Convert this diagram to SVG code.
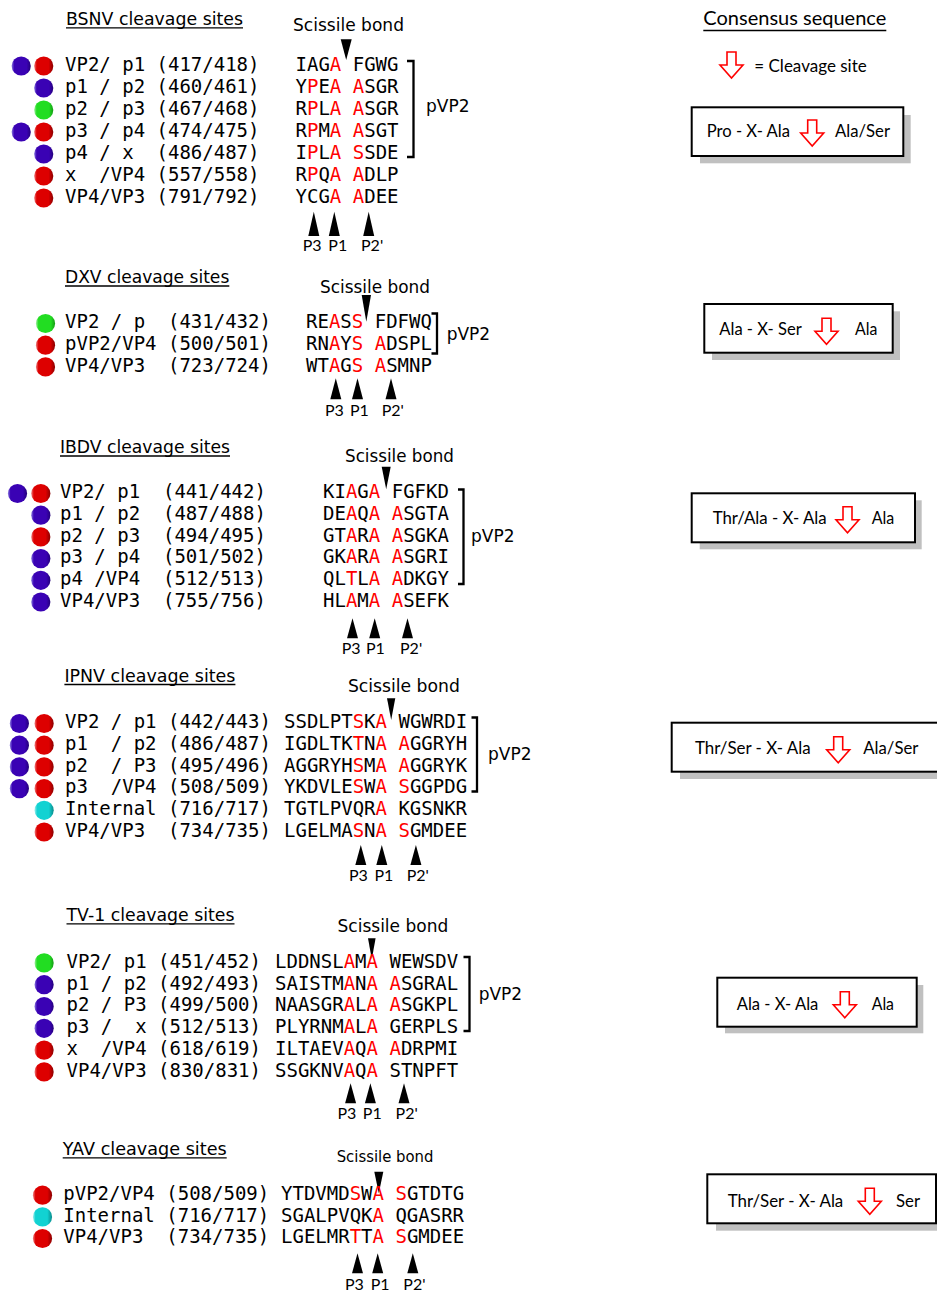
<svg xmlns="http://www.w3.org/2000/svg" width="937" height="1292" viewBox="0 0 937 1292" xml:space="preserve">
<defs>
<style>
.mono{font-family:"DejaVu Sans Mono",monospace;font-size:19px;fill:#000;white-space:pre}
.r{fill:#ff0000}
.hd{font-family:"DejaVu Sans",sans-serif;font-size:17px;fill:#000}
.sc{font-family:"DejaVu Sans",sans-serif;font-size:17px;fill:#000}
.pl{font-family:Lato,"Open Sans",sans-serif;font-size:16px;fill:#000}
.cal{font-family:Lato,"Open Sans",sans-serif;font-size:16.5px;fill:#000}
.ul{stroke:#000;stroke-width:1.3}
.tri{fill:#000}
.br{fill:none;stroke:#000;stroke-width:2.3}
.box{fill:#fff;stroke:#000;stroke-width:2}
.sh{fill:#c0c0c0}
.arr{fill:#fff;stroke:#ff0000;stroke-width:1.6}
.cb{fill:url(#gb)}.cr{fill:url(#gr)}.cg{fill:url(#gg)}.cc{fill:url(#gc)}
</style>
<linearGradient id="gb" x1="0" y1="0" x2="1" y2="0"><stop offset="0" stop-color="#8a7ae0"/><stop offset="0.14" stop-color="#3a02b4"/><stop offset="0.78" stop-color="#3a02b4"/><stop offset="1" stop-color="#24007a"/></linearGradient>
<linearGradient id="gr" x1="0" y1="0" x2="1" y2="0"><stop offset="0" stop-color="#f08080"/><stop offset="0.14" stop-color="#dd0000"/><stop offset="0.75" stop-color="#dd0000"/><stop offset="1" stop-color="#8a0000"/></linearGradient>
<linearGradient id="gg" x1="0" y1="0" x2="1" y2="0"><stop offset="0" stop-color="#a0f0a0"/><stop offset="0.14" stop-color="#22dd22"/><stop offset="0.78" stop-color="#22dd22"/><stop offset="1" stop-color="#149a14"/></linearGradient>
<linearGradient id="gc" x1="0" y1="0" x2="1" y2="0"><stop offset="0" stop-color="#a0f0f0"/><stop offset="0.14" stop-color="#12d2d2"/><stop offset="0.75" stop-color="#12d2d2"/><stop offset="1" stop-color="#0a8a8a"/></linearGradient>
<path id="ca" class="arr" d="M7,0 H16 V13 H23 L11.5,26 L0,13 H7 Z"/>
</defs>

<!-- BSNV -->
<g id="bsnv">
<text class="hd" x="66" y="25" textLength="177" lengthAdjust="spacingAndGlyphs">BSNV cleavage sites</text>
<line class="ul" x1="66" y1="27.8" x2="243" y2="27.8"/>
<text class="sc" x="293" y="31" textLength="111" lengthAdjust="spacingAndGlyphs">Scissile bond</text>
<polygon class="tri" points="340.7,39.3 351.7,39.3 346.2,60"/>
<g id="bsnv-r1"><circle class="cb" cx="21.2" cy="66" r="9.6"/><circle class="cr" cx="43.7" cy="66" r="9.6"/><text class="mono" x="65" y="70.5">VP2/ p1 (417/418)</text><text class="mono" x="295.5" y="70.5">IAG<tspan class="r">A</tspan> FGWG</text></g>
<g id="bsnv-r2"><circle class="cb" cx="43.7" cy="88" r="9.6"/><text class="mono" x="65" y="92.5">p1 / p2 (460/461)</text><text class="mono" x="295.5" y="92.5">Y<tspan class="r">P</tspan>E<tspan class="r">A</tspan> <tspan class="r">A</tspan>SGR</text></g>
<g id="bsnv-r3"><circle class="cg" cx="43.7" cy="110" r="9.6"/><text class="mono" x="65" y="114.5">p2 / p3 (467/468)</text><text class="mono" x="295.5" y="114.5">R<tspan class="r">P</tspan>L<tspan class="r">A</tspan> <tspan class="r">A</tspan>SGR</text></g>
<g id="bsnv-r4"><circle class="cb" cx="21.2" cy="132" r="9.6"/><circle class="cr" cx="43.7" cy="132" r="9.6"/><text class="mono" x="65" y="136.5">p3 / p4 (474/475)</text><text class="mono" x="295.5" y="136.5">R<tspan class="r">P</tspan>M<tspan class="r">A</tspan> <tspan class="r">A</tspan>SGT</text></g>
<g id="bsnv-r5"><circle class="cb" cx="43.7" cy="154" r="9.6"/><text class="mono" x="65" y="158.5">p4 / x  (486/487)</text><text class="mono" x="295.5" y="158.5">I<tspan class="r">P</tspan>L<tspan class="r">A</tspan> <tspan class="r">S</tspan>SDE</text></g>
<g id="bsnv-r6"><circle class="cr" cx="43.7" cy="176" r="9.6"/><text class="mono" x="65" y="180.5">x  /VP4 (557/558)</text><text class="mono" x="295.5" y="180.5">R<tspan class="r">P</tspan>Q<tspan class="r">A</tspan> <tspan class="r">A</tspan>DLP</text></g>
<g id="bsnv-r7"><circle class="cr" cx="43.7" cy="198" r="9.6"/><text class="mono" x="65" y="202.5">VP4/VP3 (791/792)</text><text class="mono" x="295.5" y="202.5">YCG<tspan class="r">A</tspan> <tspan class="r">A</tspan>DEE</text></g>
<text class="sc" x="426" y="112">pVP2</text>
<polygon class="tri" points="308.3,236 319.3,236 313.8,211.7"/>
<polygon class="tri" points="328.8,236 339.8,236 334.3,211.7"/>
<polygon class="tri" points="363.2,236 374.2,236 368.7,211.7"/>
<text class="pl" x="302.7" y="250.5">P3</text><text class="pl" x="328.3" y="250.5">P1</text><text class="pl" x="361" y="250.5">P2'</text>
</g>

<!-- DXV -->
<g id="dxv">
<text class="hd" x="65" y="283.3" textLength="164.3" lengthAdjust="spacingAndGlyphs">DXV cleavage sites</text>
<line class="ul" x1="65" y1="286" x2="229.3" y2="286"/>
<text class="sc" x="320" y="293.3" textLength="110" lengthAdjust="spacingAndGlyphs">Scissile bond</text>
<polygon class="tri" points="361.7,295 371,295 366.3,321.7"/>
<g id="dxv-r1"><circle class="cg" cx="45.5" cy="323.5" r="9.6"/><text class="mono" x="65" y="328.3">VP2 / p  (431/432)</text><text class="mono" x="306" y="328.3">RE<tspan class="r">A</tspan>S<tspan class="r">S</tspan> FDFWQ</text></g>
<g id="dxv-r2"><circle class="cr" cx="45.5" cy="345.2" r="9.6"/><text class="mono" x="65" y="350">pVP2/VP4 (500/501)</text><text class="mono" x="306" y="350">RN<tspan class="r">A</tspan>Y<tspan class="r">S</tspan> <tspan class="r">A</tspan>DSPL</text></g>
<g id="dxv-r3"><circle class="cr" cx="45.5" cy="366.9" r="9.6"/><text class="mono" x="65" y="371.7">VP4/VP3  (723/724)</text><text class="mono" x="306" y="371.7">WT<tspan class="r">A</tspan>G<tspan class="r">S</tspan> <tspan class="r">A</tspan>SMNP</text></g>
<text class="sc" x="446.7" y="340">pVP2</text>
<polygon class="tri" points="330.3,399.3 341.3,399.3 335.8,378.3"/>
<polygon class="tri" points="352,399.3 363,399.3 357.5,378.3"/>
<polygon class="tri" points="385.5,399.3 396.5,399.3 391,378.3"/>
<text class="pl" x="325" y="415.5">P3</text><text class="pl" x="350" y="415.5">P1</text><text class="pl" x="381.7" y="415.5">P2'</text>
</g>

<!-- IBDV -->
<g id="ibdv">
<text class="hd" x="60" y="453.3" textLength="170" lengthAdjust="spacingAndGlyphs">IBDV cleavage sites</text>
<line class="ul" x1="60" y1="456" x2="230" y2="456"/>
<text class="sc" x="345" y="461.7" textLength="109" lengthAdjust="spacingAndGlyphs">Scissile bond</text>
<polygon class="tri" points="381.7,466.7 390.7,466.7 386.2,489.3"/>
<g id="ibdv-r1"><circle class="cb" cx="17.5" cy="493.5" r="9.6"/><circle class="cr" cx="40.8" cy="493.5" r="9.6"/><text class="mono" x="60" y="498.3">VP2/ p1  (441/442)</text><text class="mono" x="323" y="498.3">KI<tspan class="r">A</tspan>G<tspan class="r">A</tspan> FGFKD</text></g>
<g id="ibdv-r2"><circle class="cb" cx="40.8" cy="515.2" r="9.6"/><text class="mono" x="60" y="520">p1 / p2  (487/488)</text><text class="mono" x="323" y="520">DE<tspan class="r">A</tspan>Q<tspan class="r">A</tspan> <tspan class="r">A</tspan>SGTA</text></g>
<g id="ibdv-r3"><circle class="cr" cx="40.8" cy="536.9" r="9.6"/><text class="mono" x="60" y="541.7">p2 / p3  (494/495)</text><text class="mono" x="323" y="541.7">GT<tspan class="r">A</tspan>R<tspan class="r">A</tspan> <tspan class="r">A</tspan>SGKA</text></g>
<g id="ibdv-r4"><circle class="cb" cx="40.8" cy="558.6" r="9.6"/><text class="mono" x="60" y="563.4">p3 / p4  (501/502)</text><text class="mono" x="323" y="563.4">GK<tspan class="r">A</tspan>R<tspan class="r">A</tspan> <tspan class="r">A</tspan>SGRI</text></g>
<g id="ibdv-r5"><circle class="cb" cx="40.8" cy="580.3" r="9.6"/><text class="mono" x="60" y="585.1">p4 /VP4  (512/513)</text><text class="mono" x="323" y="585.1">QL<tspan class="r">T</tspan>L<tspan class="r">A</tspan> <tspan class="r">A</tspan>DKGY</text></g>
<g id="ibdv-r6"><circle class="cb" cx="40.8" cy="602" r="9.6"/><text class="mono" x="60" y="606.8">VP4/VP3  (755/756)</text><text class="mono" x="323" y="606.8">HL<tspan class="r">A</tspan>M<tspan class="r">A</tspan> <tspan class="r">A</tspan>SEFK</text></g>
<text class="sc" x="471" y="542">pVP2</text>
<polygon class="tri" points="347,638.3 358,638.3 352.5,618.3"/>
<polygon class="tri" points="369.2,638.3 380.2,638.3 374.7,618.3"/>
<polygon class="tri" points="402,638.3 413,638.3 407.5,618.3"/>
<text class="pl" x="341.7" y="653.8">P3</text><text class="pl" x="366" y="653.8">P1</text><text class="pl" x="400" y="653.8">P2'</text>
</g>

<!-- IPNV -->
<g id="ipnv">
<text class="hd" x="64.4" y="681.7" textLength="171" lengthAdjust="spacingAndGlyphs">IPNV cleavage sites</text>
<line class="ul" x1="64.4" y1="684.5" x2="235.4" y2="684.5"/>
<text class="sc" x="347.9" y="692.3" textLength="112" lengthAdjust="spacingAndGlyphs">Scissile bond</text>
<polygon class="tri" points="387,698.3 395.3,698.3 391.2,720"/>
<g id="ipnv-r1"><circle class="cb" cx="19.4" cy="723.5" r="9.6"/><circle class="cr" cx="44.1" cy="723.5" r="9.6"/><text class="mono" x="65" y="728.3">VP2 / p1 (442/443)</text><text class="mono" x="284" y="728.3">SSDLPT<tspan class="r">S</tspan>K<tspan class="r">A</tspan> WGWRDI</text></g>
<g id="ipnv-r2"><circle class="cb" cx="19.4" cy="745.2" r="9.6"/><circle class="cr" cx="44.1" cy="745.2" r="9.6"/><text class="mono" x="65" y="750">p1  / p2 (486/487)</text><text class="mono" x="284" y="750">IGDLTK<tspan class="r">T</tspan>N<tspan class="r">A</tspan> <tspan class="r">A</tspan>GGRYH</text></g>
<g id="ipnv-r3"><circle class="cb" cx="19.4" cy="766.9" r="9.6"/><circle class="cr" cx="44.1" cy="766.9" r="9.6"/><text class="mono" x="65" y="771.7">p2  / P3 (495/496)</text><text class="mono" x="284" y="771.7">AGGRYH<tspan class="r">S</tspan>M<tspan class="r">A</tspan> <tspan class="r">A</tspan>GGRYK</text></g>
<g id="ipnv-r4"><circle class="cb" cx="19.4" cy="788.6" r="9.6"/><circle class="cr" cx="44.1" cy="788.6" r="9.6"/><text class="mono" x="65" y="793.4">p3  /VP4 (508/509)</text><text class="mono" x="284" y="793.4">YKDVLE<tspan class="r">S</tspan>W<tspan class="r">A</tspan> <tspan class="r">S</tspan>GGPDG</text></g>
<g id="ipnv-r5"><circle class="cc" cx="44.1" cy="810.3" r="9.6"/><text class="mono" x="65" y="815.1">Internal (716/717)</text><text class="mono" x="284" y="815.1">TGTLPVQR<tspan class="r">A</tspan> KGSNKR</text></g>
<g id="ipnv-r6"><circle class="cr" cx="44.1" cy="832" r="9.6"/><text class="mono" x="65" y="836.8">VP4/VP3  (734/735)</text><text class="mono" x="284" y="836.8">LGELMA<tspan class="r">S</tspan>N<tspan class="r">A</tspan> <tspan class="r">S</tspan>GMDEE</text></g>
<text class="sc" x="488" y="760">pVP2</text>
<polygon class="tri" points="355.3,865 366.3,865 360.8,845"/>
<polygon class="tri" points="376.3,865 387.3,865 381.8,845"/>
<polygon class="tri" points="410.4,865 421.4,865 415.9,845"/>
<text class="pl" x="349" y="880.5">P3</text><text class="pl" x="374.5" y="880.5">P1</text><text class="pl" x="406.7" y="880.5">P2'</text>
</g>

<!-- TV-1 -->
<g id="tv1">
<text class="hd" x="66.5" y="921" textLength="168" lengthAdjust="spacingAndGlyphs">TV-1 cleavage sites</text>
<line class="ul" x1="66.5" y1="923.8" x2="234.5" y2="923.8"/>
<text class="sc" x="337.5" y="931.7" textLength="110.8" lengthAdjust="spacingAndGlyphs">Scissile bond</text>
<polygon class="tri" points="368,938.3 375.6,938.3 371.8,959.3"/>
<g id="tv1-r1"><circle class="cg" cx="44.1" cy="962.9" r="9.6"/><text class="mono" x="66.5" y="967.7">VP2/ p1 (451/452)</text><text class="mono" x="275" y="967.7">LDDNSL<tspan class="r">A</tspan>M<tspan class="r">A</tspan> WEWSDV</text></g>
<g id="tv1-r2"><circle class="cb" cx="44.1" cy="984.7" r="9.6"/><text class="mono" x="66.5" y="989.5">p1 / p2 (492/493)</text><text class="mono" x="275" y="989.5">SAISTM<tspan class="r">A</tspan>N<tspan class="r">A</tspan> <tspan class="r">A</tspan>SGRAL</text></g>
<g id="tv1-r3"><circle class="cb" cx="44.1" cy="1006.5" r="9.6"/><text class="mono" x="66.5" y="1011.3">p2 / P3 (499/500)</text><text class="mono" x="275" y="1011.3">NAASGR<tspan class="r">A</tspan>L<tspan class="r">A</tspan> <tspan class="r">A</tspan>SGKPL</text></g>
<g id="tv1-r4"><circle class="cb" cx="44.1" cy="1028.3" r="9.6"/><text class="mono" x="66.5" y="1033.1">p3 /  x (512/513)</text><text class="mono" x="275" y="1033.1">PLYRNM<tspan class="r">A</tspan>L<tspan class="r">A</tspan> GERPLS</text></g>
<g id="tv1-r5"><circle class="cr" cx="44.1" cy="1050.1" r="9.6"/><text class="mono" x="66.5" y="1054.9">x  /VP4 (618/619)</text><text class="mono" x="275" y="1054.9">ILTAEV<tspan class="r">A</tspan>Q<tspan class="r">A</tspan> <tspan class="r">A</tspan>DRPMI</text></g>
<g id="tv1-r6"><circle class="cr" cx="44.1" cy="1071.9" r="9.6"/><text class="mono" x="66.5" y="1076.7">VP4/VP3 (830/831)</text><text class="mono" x="275" y="1076.7">SSGKNV<tspan class="r">A</tspan>Q<tspan class="r">A</tspan> STNPFT</text></g>
<text class="sc" x="478.7" y="1000">pVP2</text>
<polygon class="tri" points="345.1,1103.3 356.1,1103.3 350.6,1083.3"/>
<polygon class="tri" points="364.9,1103.3 375.9,1103.3 370.4,1083.3"/>
<polygon class="tri" points="398.5,1103.3 409.5,1103.3 404,1083.3"/>
<text class="pl" x="337.5" y="1118.8">P3</text><text class="pl" x="362.8" y="1118.8">P1</text><text class="pl" x="395.6" y="1118.8">P2'</text>
</g>

<!-- YAV -->
<g id="yav">
<text class="hd" x="62.7" y="1155" textLength="164" lengthAdjust="spacingAndGlyphs">YAV cleavage sites</text>
<line class="ul" x1="62.7" y1="1157.8" x2="226.7" y2="1157.8"/>
<text class="sc" x="336.7" y="1161.7" style="font-size:15px" textLength="96.7" lengthAdjust="spacingAndGlyphs">Scissile bond</text>
<polygon class="tri" points="374.3,1171.7 383.3,1171.7 378.8,1193.3"/>
<g id="yav-r1"><circle class="cr" cx="42.5" cy="1195.2" r="9.6"/><text class="mono" x="63.3" y="1200">pVP2/VP4 (508/509)</text><text class="mono" x="281" y="1200">YTDVMD<tspan class="r">S</tspan>W<tspan class="r">A</tspan> <tspan class="r">S</tspan>GTDTG</text></g>
<g id="yav-r2"><circle class="cc" cx="42.5" cy="1216.9" r="9.6"/><text class="mono" x="63.3" y="1221.7">Internal (716/717)</text><text class="mono" x="281" y="1221.7">SGALPVQK<tspan class="r">A</tspan> QGASRR</text></g>
<g id="yav-r3"><circle class="cr" cx="42.5" cy="1238.5" r="9.6"/><text class="mono" x="63.3" y="1243.3">VP4/VP3  (734/735)</text><text class="mono" x="281" y="1243.3">LGELMR<tspan class="r">T</tspan>T<tspan class="r">A</tspan> <tspan class="r">S</tspan>GMDEE</text></g>
<polygon class="tri" points="352,1273.3 363,1273.3 357.5,1253.3"/>
<polygon class="tri" points="372.2,1273.3 383.2,1273.3 377.7,1253.3"/>
<polygon class="tri" points="407.3,1273.3 418.3,1273.3 412.8,1253.3"/>
<text class="pl" x="345" y="1289.5">P3</text><text class="pl" x="370.7" y="1289.5">P1</text><text class="pl" x="403.3" y="1289.5">P2'</text>
</g>

<!-- brackets -->
<g id="connectors">
<path class="br" d="M407,61 H413.5 V157 H407"/>
<path class="br" d="M431.5,313.5 H437 V353.5 H431.5"/>
<path class="br" d="M458,489.5 H463.5 V584 H458"/>
<path class="br" d="M471.5,717.5 H477 V791.5 H471.5"/>
<path class="br" d="M463.5,957 H469.5 V1031 H463.5"/>
</g>

<!-- Consensus -->
<g id="consensus-legend">
<text class="cal" x="703.3" y="25" style="font-size:19px" textLength="183" lengthAdjust="spacingAndGlyphs">Consensus sequence</text>
<line class="ul" x1="703.3" y1="30.5" x2="886.3" y2="30.5"/>
<use href="#ca" transform="translate(720,52)"/>
<text class="cal" x="754.3" y="71.7" style="font-size:17px" textLength="112.4" lengthAdjust="spacingAndGlyphs">= Cleavage site</text>
</g>
<g id="cons-bsnv">
<rect class="sh" x="700" y="115" width="210.7" height="48.3"/>
<rect class="box" x="691.7" y="107.3" width="211.6" height="48.7"/>
<text class="cal" x="706.7" y="137" textLength="83.3" lengthAdjust="spacingAndGlyphs">Pro - X- Ala</text>
<use href="#ca" transform="translate(800.7,120)"/>
<text class="cal" x="835" y="137" textLength="55" lengthAdjust="spacingAndGlyphs">Ala/Ser</text>
</g>
<g id="cons-dxv">
<rect class="sh" x="712" y="311.3" width="188" height="48.7"/>
<rect class="box" x="704.3" y="304" width="188.4" height="48.7"/>
<text class="cal" x="719.3" y="335" textLength="82.4" lengthAdjust="spacingAndGlyphs">Ala - X- Ser</text>
<use href="#ca" transform="translate(815,318.3)"/>
<text class="cal" x="855" y="335" textLength="22.3" lengthAdjust="spacingAndGlyphs">Ala</text>
</g>
<g id="cons-ibdv">
<rect class="sh" x="699.7" y="500.3" width="222" height="49"/>
<rect class="box" x="691.7" y="493.3" width="223.3" height="49"/>
<text class="cal" x="712.7" y="523.8" textLength="114" lengthAdjust="spacingAndGlyphs">Thr/Ala - X- Ala</text>
<use href="#ca" transform="translate(836,506.7)"/>
<text class="cal" x="871.7" y="523.8" textLength="22.6" lengthAdjust="spacingAndGlyphs">Ala</text>
</g>
<g id="cons-ipnv">
<rect class="sh" x="680" y="730" width="280" height="49"/>
<rect class="box" x="671.7" y="722.7" width="280" height="49"/>
<text class="cal" x="695" y="753.8" textLength="115.7" lengthAdjust="spacingAndGlyphs">Thr/Ser - X- Ala</text>
<use href="#ca" transform="translate(826.7,736.7)"/>
<text class="cal" x="863.3" y="753.8" textLength="55" lengthAdjust="spacingAndGlyphs">Ala/Ser</text>
</g>
<g id="cons-tv1">
<rect class="sh" x="725" y="985" width="198.3" height="48.3"/>
<rect class="box" x="717.3" y="977.7" width="199.4" height="49"/>
<text class="cal" x="736.7" y="1009.8" textLength="81.6" lengthAdjust="spacingAndGlyphs">Ala - X- Ala</text>
<use href="#ca" transform="translate(833.3,991.7)"/>
<text class="cal" x="871.7" y="1009.8" textLength="22.3" lengthAdjust="spacingAndGlyphs">Ala</text>
</g>
<g id="cons-yav">
<rect class="sh" x="716" y="1181.7" width="225" height="49"/>
<rect class="box" x="707.3" y="1174.3" width="228.7" height="49"/>
<text class="cal" x="727.7" y="1206.5" textLength="115.6" lengthAdjust="spacingAndGlyphs">Thr/Ser - X- Ala</text>
<use href="#ca" transform="translate(858.3,1188.3)"/>
<text class="cal" x="896" y="1206.5" textLength="24" lengthAdjust="spacingAndGlyphs">Ser</text>
</g>
</svg>
